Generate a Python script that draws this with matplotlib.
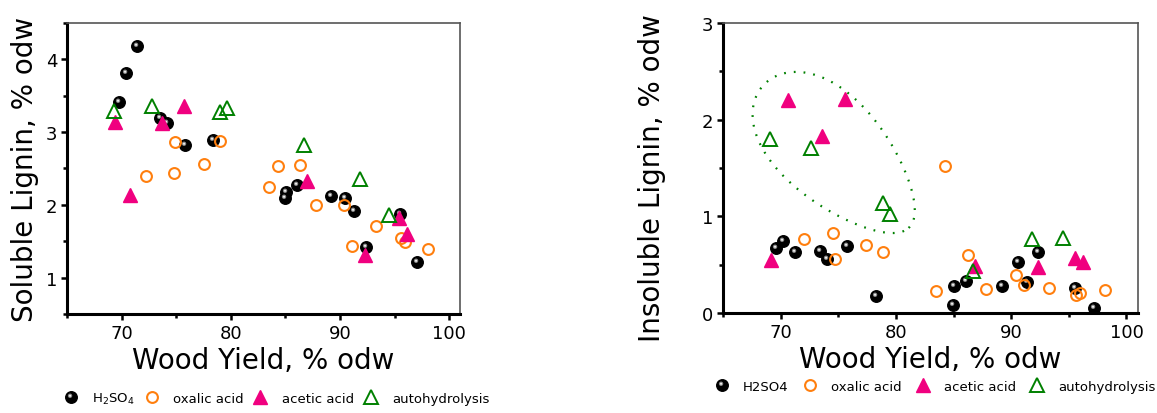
import numpy as np
import matplotlib
matplotlib.use("Agg")
import matplotlib.pyplot as plt
from matplotlib.path import Path
from matplotlib.legend_handler import HandlerTuple
from matplotlib.lines import Line2D
from matplotlib.ticker import MultipleLocator

plt.rcParams['font.family'] = ['DejaVu Sans']

# ---- Soluble lignin (left panel) ----
sol_h2so4_x = [71.45, 70.42, 69.8, 73.55, 74.15, 75.85, 78.4, 85.06, 85.0, 86.06, 89.2, 90.5, 91.3, 95.5, 92.36, 97.1]
sol_h2so4_y = [4.18, 3.81, 3.41, 3.20, 3.13, 2.82, 2.89, 2.18, 2.10, 2.27, 2.12, 2.09, 1.92, 1.88, 1.42, 1.22]

sol_oxal_x = [74.88, 72.24, 74.76, 77.52, 79.03, 83.5, 84.3, 86.3, 87.8, 90.4, 91.1, 93.3, 95.6, 96.0, 98.1]
sol_oxal_y = [2.86, 2.39, 2.44, 2.56, 2.88, 2.24, 2.54, 2.55, 2.00, 2.00, 1.43, 1.71, 1.54, 1.49, 1.39]

sol_acet_x = [69.4, 75.7, 73.7, 70.8, 87.0, 92.3, 95.45, 96.1]
sol_acet_y = [3.14, 3.36, 3.13, 2.13, 2.33, 1.31, 1.82, 1.60]

sol_auto_x = [69.3, 72.8, 79.0, 79.7, 86.7, 91.8, 94.45]
sol_auto_y = [3.29, 3.36, 3.27, 3.33, 2.82, 2.36, 1.86]

# ---- Insoluble lignin (right panel) ----
ins_h2so4_x = [69.6, 70.2, 71.25, 73.4, 74.0, 75.76, 78.3, 85.06, 84.94, 86.1, 89.2, 90.55, 91.34, 92.35, 95.5, 97.2]
ins_h2so4_y = [0.67, 0.75, 0.63, 0.64, 0.56, 0.69, 0.18, 0.28, 0.08, 0.33, 0.28, 0.53, 0.32, 0.63, 0.26, 0.055]

ins_oxal_x = [72.03, 74.56, 74.74, 77.4, 78.9, 84.24, 83.46, 86.28, 87.8, 90.4, 91.1, 93.3, 96.0, 95.6, 98.1]
ins_oxal_y = [0.77, 0.83, 0.56, 0.70, 0.63, 1.52, 0.23, 0.60, 0.245, 0.39, 0.29, 0.26, 0.21, 0.19, 0.24]

ins_acet_x = [69.2, 70.6, 75.6, 73.6, 86.9, 92.3, 95.5, 96.2]
ins_acet_y = [0.55, 2.20, 2.21, 1.83, 0.49, 0.48, 0.57, 0.53]

ins_auto_x = [69.1, 72.6, 78.9, 79.5, 86.7, 91.8, 94.5]
ins_auto_y = [1.80, 1.71, 1.14, 1.02, 0.43, 0.77, 0.78]

labels_left = [r'H$_\mathregular{2}$SO$_\mathregular{4}$', 'oxalic acid', 'acetic acid', 'autohydrolysis']
labels_right = ['H2SO4', 'oxalic acid', 'acetic acid', 'autohydrolysis']

ORANGE = '#ff7f0e'
PINK = '#f0007f'
GREEN = '#008000'


def highlight_path(cx, cy, r):
    # small circle offset inside a fixed [-1, 1] box so the offset survives marker scaling
    t = np.linspace(0, 2 * np.pi, 40)
    verts = [(-1, -1), (1, 1)] + list(zip(cx + r * np.cos(t), cy + r * np.sin(t)))
    codes = [Path.MOVETO, Path.MOVETO, Path.MOVETO] + [Path.LINETO] * (len(t) - 1)
    return Path(verts, codes)


HL1 = highlight_path(-0.25, 0.3, 0.38)
HL2 = highlight_path(-0.25, 0.3, 0.18)
MS_SPH = 8.3


def sphere(ax, x, y):
    ax.plot(x, y, 'o', color='black', ms=MS_SPH, mec='black', ls='none', zorder=3)
    ax.plot(x, y, marker=HL1, color='#8a8a8a', ms=MS_SPH, mew=0, ls='none', zorder=3)
    ax.plot(x, y, marker=HL2, color='#f2f2f2', ms=MS_SPH, mew=0, ls='none', zorder=3)


def panel(ax, hx, hy, ox, oy, ax_, ay, gx, gy, ylim, ylabel, yticks):
    sphere(ax, hx, hy)
    ax.plot(ox, oy, 'o', mfc='none', mec=ORANGE, mew=1.5, ms=7.8, ls='none', zorder=4)
    ax.plot(ax_, ay, '^', color=PINK, ms=9.5, ls='none', zorder=5)
    ax.plot(gx, gy, '^', mfc='none', mec=GREEN, mew=1.4, ms=9.5, ls='none', zorder=6)
    ax.set_xlim(65, 101)
    ax.set_ylim(*ylim)
    ax.xaxis.set_major_locator(MultipleLocator(10))
    ax.xaxis.set_minor_locator(MultipleLocator(5))
    ax.set_yticks(yticks)
    ax.yaxis.set_minor_locator(MultipleLocator(0.5))
    ax.tick_params(which='both', direction='out', width=1.8, top=False, right=False, labelsize=13)
    ax.tick_params(which='major', length=4, pad=3)
    ax.tick_params(which='minor', length=3)
    for s in ['left', 'bottom']:
        ax.spines[s].set_linewidth(2.2)
        ax.spines[s].set_color('black')
    for s in ['top', 'right']:
        ax.spines[s].set_linewidth(1.2)
        ax.spines[s].set_color('#555555')
    ax.set_xlabel('Wood Yield, % odw', fontsize=20, labelpad=3)
    ax.set_ylabel(ylabel, fontsize=20, labelpad=5)


fig = plt.figure(figsize=(11.57, 4.14), dpi=100)
ax1 = fig.add_axes([0.0579, 0.2391, 0.3397, 0.703])
ax2 = fig.add_axes([0.6249, 0.2415, 0.3587, 0.7005])

panel(ax1, sol_h2so4_x, sol_h2so4_y, sol_oxal_x, sol_oxal_y, sol_acet_x, sol_acet_y,
      sol_auto_x, sol_auto_y, (0.5, 4.5), 'Soluble Lignin, % odw', [1, 2, 3, 4])
panel(ax2, ins_h2so4_x, ins_h2so4_y, ins_oxal_x, ins_oxal_y, ins_acet_x, ins_acet_y,
      ins_auto_x, ins_auto_y, (0, 3), 'Insoluble Lignin, % odw', [0, 1, 2, 3])
ax2.yaxis.set_label_coords(-0.138, 0.47)

# dotted egg-shaped outline around the early acetic / autohydrolysis group
t = np.linspace(0, 2 * np.pi, 300)
c = np.array([74.9, 1.63])
a_vec = np.array([6.2, -0.75])
b_vec = np.array([3.3, 0.36])
w = 1 - 0.22 * np.cos(t)
ex = c[0] + np.cos(t) * a_vec[0] + np.sin(t) * w * b_vec[0]
ey = c[1] + np.cos(t) * a_vec[1] + np.sin(t) * w * b_vec[1]
ax2.plot(ex, ey, color=GREEN, lw=1.6, ls=(0, (0.8, 3.6)), zorder=2)


def legend_handles():
    sph = (Line2D([], [], marker='o', color='black', ms=MS_SPH, ls='none'),
           Line2D([], [], marker=HL1, color='#8a8a8a', ms=MS_SPH, mew=0, ls='none'),
           Line2D([], [], marker=HL2, color='#f2f2f2', ms=MS_SPH, mew=0, ls='none'))
    oxa = Line2D([], [], marker='o', mfc='none', mec=ORANGE, mew=1.5, ms=7.8, ls='none')
    ace = Line2D([], [], marker='^', color=PINK, ms=9.5, ls='none')
    aut = Line2D([], [], marker='^', mfc='none', mec=GREEN, mew=1.4, ms=9.5, ls='none')
    return [sph, oxa, ace, aut]


leg_kw = dict(ncol=4, frameon=False, fontsize=9.5, handlelength=1.2, handletextpad=1.0,
              handler_map={tuple: HandlerTuple(ndivide=1)})
fig.legend(legend_handles(), labels_left, loc='center left', bbox_to_anchor=(0.044, 0.035),
           columnspacing=0.7, **leg_kw)
fig.legend(legend_handles(), labels_right, loc='center left', bbox_to_anchor=(0.607, 0.065),
           columnspacing=1.0, **leg_kw)

fig.savefig('out.png', dpi=100)
